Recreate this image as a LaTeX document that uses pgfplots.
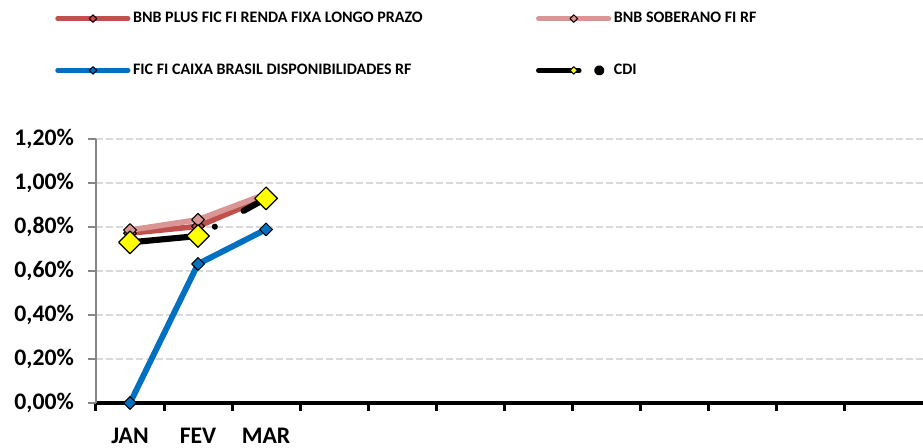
\documentclass[border=0pt]{standalone}
\usepackage{fontspec}
\setmainfont{Carlito}
\usepackage{pgfplots}
\pgfplotsset{compat=1.18}
\definecolor{bnbred}{HTML}{C0504D}
\definecolor{bnbpink}{HTML}{D99694}
\definecolor{caixablue}{HTML}{0070C0}
\definecolor{cdiyellow}{HTML}{FFFF00}
\definecolor{gridgray}{HTML}{D9D9D9}
\definecolor{axisgray}{HTML}{868686}
\begin{document}
\begin{tikzpicture}
\useasboundingbox (-72pt,-33.75pt) rectangle (620.25pt,302.25pt);
\begin{axis}[
  scale only axis, width=620.25pt, height=198pt,
  xmin=0.5, xmax=12.66, ymin=0, ymax=1.2,
  axis lines*=left,
  clip=false,
  x axis line style={black, line width=3pt},
  y axis line style={axisgray, line width=1.1pt},
  tick align=outside, major tick length=6pt,
  xtick={0.5,1.5,2.5,3.5,4.5,5.5,6.5,7.5,8.5,9.5,10.5,11.5},
  xticklabels={},
  extra x ticks={1,2,3},
  extra x tick labels={JAN,FEV,MAR},
  extra x tick style={major tick length=0pt, grid=none,
     xticklabel style={yshift=-15.6pt}},
  xtick style={black, line width=2.25pt},
  ytick={0,0.2,0.4,0.6,0.8,1.0,1.2},
  yticklabels={{0,00\%},{0,20\%},{0,40\%},{0,60\%},{0,80\%},{1,00\%},{1,20\%}},
  ytick style={axisgray, line width=1.1pt},
  yticklabel style={xshift=-7pt},
  ymajorgrids,
  grid style={gridgray, line width=1.1pt, dash pattern=on 5pt off 2.5pt},
  tick label style={font=\fontsize{17.8}{20}\selectfont\bfseries},
  legend columns=2,
  legend cell align=left,
  legend style={draw=none, fill=none, inner sep=0pt,
     font=\fontsize{12}{14}\selectfont\bfseries,
     at={(rel axis cs:0,1)}, anchor=north west,
     xshift=-30.75pt, yshift=97.2pt,
     /tikz/every even column/.append style={column sep=83pt},
     row sep=25.5pt},
]
\addplot[bnbred, line width=4.2pt, line join=round, mark=square*, mark size=3.4pt,
  mark options={fill=bnbred, draw=black, line width=0.75pt, rotate=45, solid},
  legend image code/.code={
    \draw[bnbred, line width=3.4pt, line cap=round] (0pt,0pt) -- (53pt,0pt);
    \draw[mark=square*, mark size=2pt, mark options={fill=bnbred, draw=black, line width=0.75pt, rotate=45}] plot coordinates {(26.6pt,0pt)};
  }] coordinates {(1,0.772) (2,0.803) (3,0.935)};
\addlegendentry{BNB PLUS FIC FI RENDA FIXA LONGO PRAZO}
\addplot[bnbpink, line width=4.2pt, line join=round, mark=square*, mark size=3.4pt,
  mark options={fill=bnbpink, draw=black, line width=0.75pt, rotate=45, solid},
  legend image code/.code={
    \draw[bnbpink, line width=3.4pt, line cap=round] (0pt,0pt) -- (53pt,0pt);
    \draw[mark=square*, mark size=2pt, mark options={fill=bnbpink, draw=black, line width=0.75pt, rotate=45}] plot coordinates {(26.6pt,0pt)};
  }] coordinates {(1,0.786) (2,0.833) (3,0.95)};
\addlegendentry{BNB SOBERANO FI RF}
\addplot[caixablue, line width=4.4pt, line join=round, mark=square*, mark size=3.4pt,
  mark options={fill=caixablue, draw=black, line width=0.75pt, rotate=45, solid},
  legend image code/.code={
    \draw[caixablue, line width=3.4pt, line cap=round] (0pt,0pt) -- (53pt,0pt);
    \draw[mark=square*, mark size=2pt, mark options={fill=caixablue, draw=black, line width=0.75pt, rotate=45}] plot coordinates {(26.6pt,0pt)};
  }] coordinates {(1,0.0) (2,0.632) (3,0.789)};
\addlegendentry{FIC FI CAIXA BRASIL DISPONIBILIDADES RF}
\addplot[black, line width=4.6pt, line cap=round, line join=round,
  dash pattern=on 51.75pt off 13.9pt on 0pt off 24.6pt on 225pt off 10pt,
  mark=square*, mark size=6pt,
  mark options={fill=cdiyellow, draw=black, line width=0.9pt, rotate=45, solid},
  legend image code/.code={
    \draw[black, line width=3.4pt, line cap=round] (0pt,0pt) -- (30.75pt,0pt);
    \fill[black] (45.75pt,0pt) circle (1.5pt);
    \draw[mark=square*, mark size=2pt, mark options={fill=cdiyellow, draw=black, line width=0.75pt, rotate=45}] plot coordinates {(26.6pt,0pt)};
  }] coordinates {(1,0.73) (2,0.759) (3,0.93)};
\addlegendentry{CDI}
\end{axis}
\end{tikzpicture}
\end{document}
